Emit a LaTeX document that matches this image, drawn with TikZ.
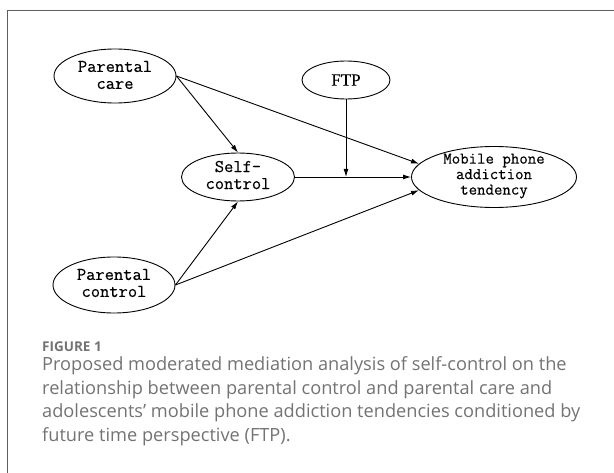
\documentclass[tikz,border=0pt]{standalone}
\usepackage{fontspec}
\setmainfont{Liberation Serif}
\newfontfamily\capfont{Open Sans}
\newfontfamily\dmono{lmmono12-regular.otf}[FakeBold=0.4]
\newfontfamily\dserif{Liberation Serif}[FakeBold=0.2]
\usetikzlibrary{shapes.geometric,arrows.meta}
\definecolor{capgray}{RGB}{115,115,115}
\definecolor{framegray}{RGB}{95,95,95}
\begin{document}
\begin{tikzpicture}[x=1pt,y=-1pt,
  oval/.style={draw, ellipse, line width=0.9pt, inner sep=0pt},
  lbl/.style={align=center, inner sep=0pt, font=\dmono\fontsize{18}{17}\selectfont},
  arr/.style={-{Latex[length=8pt,width=5pt]}, line width=0.9pt},
  capline/.style={anchor=base west, inner sep=0pt, text=capgray, font=\capfont\fontsize{18.2}{23.7}\selectfont}]
\useasboundingbox (0,0) rectangle (614,473);
\draw[framegray, line width=0.8pt] (7,473) -- (7,10) -- (614,10);

\node[oval, minimum width=122pt, minimum height=54pt] (pcare) at (115,76) {};
\node[oval, minimum width=88pt, minimum height=38pt] (ftp) at (346,80) {};
\node[oval, minimum width=113pt, minimum height=48pt] (self) at (238,177) {};
\node[oval, minimum width=165pt, minimum height=61pt] (mob) at (494,177) {};
\node[oval, minimum width=122pt, minimum height=56pt] (pctrl) at (114,285) {};

\node[lbl] (pcaret) at (115,75) {Parental\\care};
\node[inner sep=0pt, font=\dserif\fontsize{17}{17}\selectfont] (ftpt) at (346,80) {FTP};
\node[lbl] (selft) at (238,175) {Self-\\control};
\node[lbl, font=\dmono\fontsize{16.4}{15.5}\selectfont] (mobt) at (494,176) {Mobile phone\\addiction\\tendency};
\node[lbl] (pctrlt) at (114,283) {Parental\\control};

\draw[arr] (pcare.east) -- (self.north);
\draw[arr] (pcare.east) -- (mob.170);
\draw[arr] (self.east) -- (mob.west);
\draw[arr] (ftp.south) -- (ftp.south |- mob.center);
\draw[arr] (pctrl.east) -- (self.south);
\draw[arr] (pctrl.east) -- (mob.190);

\node[anchor=base west, inner sep=0pt, text=capgray, font=\capfont\bfseries\fontsize{13.5}{16}\selectfont] (fig) at (42,352) {FIGURE 1};
\node[capline] (c1) at (42,371) {Proposed moderated mediation analysis of self-control on the};
\node[capline] (c2) at (42,395) {relationship between parental control and parental care and};
\node[capline] (c3) at (42,418) {adolescents’ mobile phone addiction tendencies conditioned by};
\node[capline] (c4) at (42,442) {future time perspective (FTP).};
\end{tikzpicture}
\end{document}
